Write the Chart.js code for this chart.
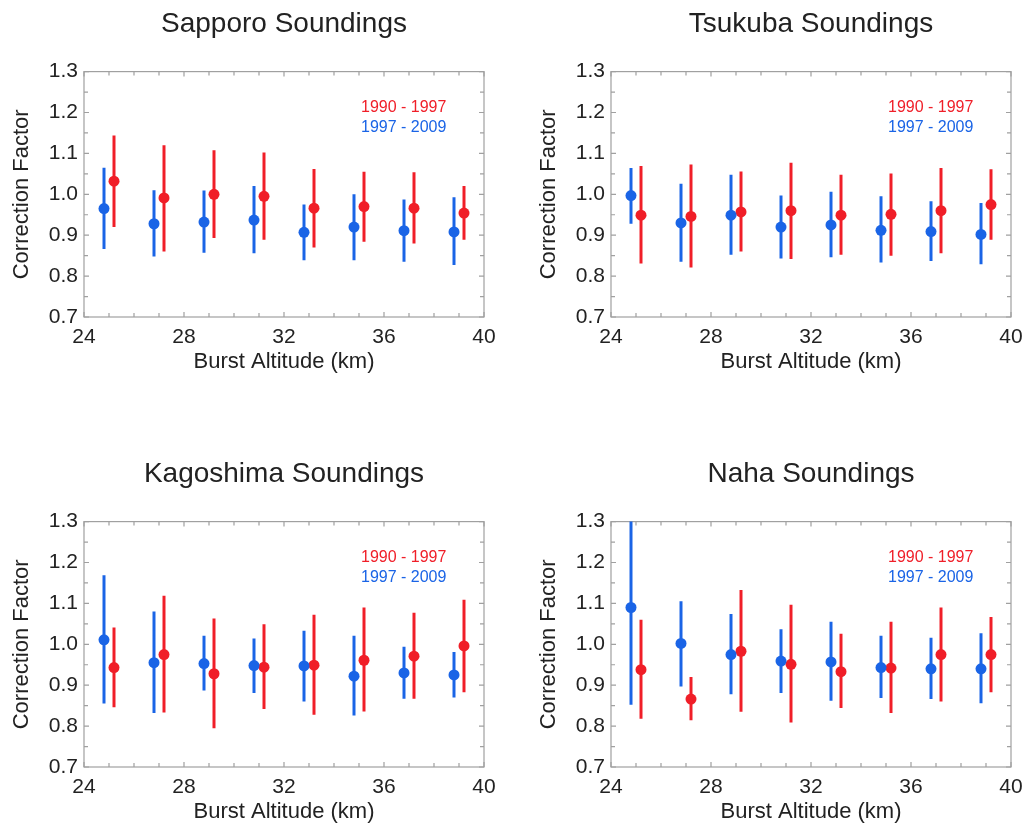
<!DOCTYPE html>
<html>
<head>
<meta charset="utf-8">
<script src="https://cdn.jsdelivr.net/npm/chart.js@4.4.0/dist/chart.umd.min.js"></script>
<style>
  body { margin: 0; background: #fff; width: 1025px; height: 824px; position: relative; overflow: hidden; }
  .panel { position: absolute; width: 498px; height: 400px; }
</style>
</head>
<body>
<div class="panel" style="left:0;top:0"><canvas id="c0"></canvas></div>
<div class="panel" style="left:527px;top:0"><canvas id="c1"></canvas></div>
<div class="panel" style="left:0;top:450px"><canvas id="c2"></canvas></div>
<div class="panel" style="left:527px;top:450px"><canvas id="c3"></canvas></div>
<script>
// eixos e rótulos
const xTicks = [24, 28, 32, 36, 40];
const yTicks = [0.7, 0.8, 0.9, 1.0, 1.1, 1.2, 1.3];
const periods = ['1990 - 1997', '1997 - 2009'];
const stations = ['Sapporo Soundings', 'Tsukuba Soundings', 'Kagoshima Soundings', 'Naha Soundings'];

// altitudes (km) de cada período
const oldAlt = [25.2, 27.2, 29.2, 31.2, 33.2, 35.2, 37.2, 39.2]; // 1990 - 1997 (vermelho)
const newAlt = [24.8, 26.8, 28.8, 30.8, 32.8, 34.8, 36.8, 38.8]; // 1997 - 2009 (azul)

// Sapporo
const sapporoOld     = [1.032, 0.991, 1.000, 0.995, 0.966, 0.970, 0.966, 0.954];
const sapporoOldLow  = [0.920, 0.860, 0.893, 0.889, 0.870, 0.884, 0.880, 0.889];
const sapporoOldHigh = [1.144, 1.120, 1.108, 1.102, 1.062, 1.055, 1.054, 1.020];
const sapporoNew     = [0.965, 0.928, 0.932, 0.937, 0.907, 0.920, 0.911, 0.908];
const sapporoNewLow  = [0.866, 0.848, 0.857, 0.856, 0.839, 0.839, 0.835, 0.827];
const sapporoNewHigh = [1.065, 1.010, 1.009, 1.020, 0.975, 1.000, 0.987, 0.993];

// Tsukuba
const tsukubaOld     = [0.949, 0.946, 0.957, 0.960, 0.949, 0.951, 0.960, 0.975];
const tsukubaOldLow  = [0.831, 0.821, 0.860, 0.842, 0.852, 0.850, 0.856, 0.889];
const tsukubaOldHigh = [1.069, 1.073, 1.056, 1.077, 1.048, 1.051, 1.064, 1.061];
const tsukubaNew     = [0.997, 0.930, 0.949, 0.920, 0.925, 0.912, 0.909, 0.902];
const tsukubaNewLow  = [0.928, 0.835, 0.852, 0.843, 0.846, 0.833, 0.837, 0.829];
const tsukubaNewHigh = [1.064, 1.026, 1.048, 0.997, 1.006, 0.995, 0.983, 0.979];

// Kagoshima
const kagoshimaOld     = [0.943, 0.975, 0.928, 0.944, 0.949, 0.961, 0.971, 0.996];
const kagoshimaOldLow  = [0.846, 0.833, 0.795, 0.842, 0.828, 0.836, 0.867, 0.883];
const kagoshimaOldHigh = [1.041, 1.119, 1.063, 1.049, 1.072, 1.090, 1.077, 1.109];
const kagoshimaNew     = [1.011, 0.955, 0.953, 0.948, 0.947, 0.922, 0.930, 0.925];
const kagoshimaNewLow  = [0.855, 0.832, 0.887, 0.881, 0.860, 0.826, 0.867, 0.870];
const kagoshimaNewHigh = [1.169, 1.080, 1.021, 1.014, 1.033, 1.021, 0.994, 0.981];

// Naha
const nahaOld     = [0.938, 0.866, 0.983, 0.951, 0.933, 0.942, 0.975, 0.975];
const nahaOldLow  = [0.818, 0.814, 0.835, 0.809, 0.844, 0.832, 0.860, 0.883];
const nahaOldHigh = [1.060, 0.920, 1.133, 1.097, 1.026, 1.055, 1.090, 1.067];
const nahaNew     = [1.090, 1.002, 0.975, 0.959, 0.957, 0.943, 0.940, 0.940];
const nahaNewLow  = [0.852, 0.897, 0.878, 0.881, 0.862, 0.869, 0.866, 0.856];
const nahaNewHigh = [1.340, 1.105, 1.074, 1.037, 1.055, 1.021, 1.016, 1.027];

const RED = '#f01e28';
const BLUE = '#1a64e6';
const FONT = '"Liberation Sans", Arial, Helvetica, sans-serif';
const TEXT = '#222222';

// monta segmentos verticais separados por null (gap)
function barras(alt, low, high) {
    const pts = [];
    for (let i = 0; i < alt.length; i++) {
        pts.push({ x: alt[i], y: low[i] });
        pts.push({ x: alt[i], y: high[i] });
        pts.push({ x: alt[i], y: null });
    }
    return pts;
}

function pontos(alt, val) {
    return alt.map((a, i) => ({ x: a, y: val[i] }));
}

// moldura com marcas internas (estilo IDL)
const molduraPlugin = {
    id: 'moldura',
    beforeDatasetsDraw(chart) {
        const { ctx, chartArea: a, scales: { x, y } } = chart;
        ctx.save();
        ctx.strokeStyle = '#a0a0a0';
        ctx.lineWidth = 1.2;
        ctx.strokeRect(a.left, a.top, a.right - a.left, a.bottom - a.top);
        ctx.beginPath();
        for (let v = xTicks[0]; v <= xTicks[xTicks.length - 1]; v += 1) {
            const px = x.getPixelForValue(v);
            const len = xTicks.includes(v) ? 5 : 4;
            ctx.moveTo(px, a.bottom); ctx.lineTo(px, a.bottom - len);
            ctx.moveTo(px, a.top); ctx.lineTo(px, a.top + len);
        }
        for (let k = 0; k <= (yTicks.length - 1) * 2; k++) {
            const v = yTicks[0] + k * 0.05;
            const py = y.getPixelForValue(v);
            const len = k % 2 === 0 ? 5 : 4;
            ctx.moveTo(a.left, py); ctx.lineTo(a.left + len, py);
            ctx.moveTo(a.right, py); ctx.lineTo(a.right - len, py);
        }
        ctx.stroke();
        ctx.restore();
    },
    afterDraw(chart) {
        const { ctx, chartArea: a } = chart;
        ctx.save();
        ctx.font = '16px ' + FONT;
        ctx.textBaseline = 'middle';
        ctx.textAlign = 'left';
        ctx.fillStyle = RED;
        ctx.fillText(periods[0], a.left + 277, a.top + 36);
        ctx.fillStyle = BLUE;
        ctx.fillText(periods[1], a.left + 277, a.top + 56);
        ctx.restore();
    }
};

function gerarGrafico(id, titulo, oldV, oldLo, oldHi, newV, newLo, newHi) {
    const ctx = document.getElementById(id).getContext('2d');
    return new Chart(ctx, {
        type: 'scatter',
        data: {
            datasets: [
                { data: barras(newAlt, newLo, newHi), showLine: true, borderColor: BLUE, borderWidth: 3, pointRadius: 0, spanGaps: false, clip: 0 },
                { data: barras(oldAlt, oldLo, oldHi), showLine: true, borderColor: RED, borderWidth: 3, pointRadius: 0, spanGaps: false, clip: 0 },
                { data: pontos(newAlt, newV), pointRadius: 5.5, pointBackgroundColor: BLUE, pointBorderWidth: 0, borderColor: BLUE },
                { data: pontos(oldAlt, oldV), pointRadius: 5.5, pointBackgroundColor: RED, pointBorderWidth: 0, borderColor: RED }
            ]
        },
        options: {
            responsive: true,
            maintainAspectRatio: false,
            animation: false,
            events: [],
            layout: { padding: { left: 0, right: 14, top: 0, bottom: 21 } },
            scales: {
                x: {
                    type: 'linear',
                    min: 24, max: 40,
                    afterBuildTicks: s => { s.ticks = xTicks.map(v => ({ value: v })); },
                    afterFit: s => { s.height = 62; s.paddingLeft = 0; s.paddingRight = 10; },
                    grid: { display: false, drawTicks: false },
                    border: { display: false },
                    ticks: { color: TEXT, font: { family: FONT, size: 21 }, padding: 8, maxRotation: 0 },
                    title: { display: true, text: 'Burst Altitude (km)', color: TEXT, font: { family: FONT, size: 22 }, padding: { top: 0, bottom: 4 } }
                },
                y: {
                    min: 0.7, max: 1.3,
                    afterBuildTicks: s => { s.ticks = yTicks.map(v => ({ value: v })); },
                    afterFit: s => { s.width = 84; },
                    grid: { display: false, drawTicks: false },
                    border: { display: false },
                    ticks: { color: TEXT, font: { family: FONT, size: 21 }, padding: 6, callback: v => Number(v).toFixed(1) },
                    title: { display: true, text: 'Correction Factor', color: TEXT, font: { family: FONT, size: 22 }, padding: { top: 9, bottom: 0 } }
                }
            },
            plugins: {
                legend: { display: false },
                tooltip: { enabled: false },
                title: { display: true, fullSize: false, text: titulo, color: TEXT, font: { family: FONT, size: 28, weight: 'normal' }, padding: { top: 7, bottom: 31 } }
            }
        },
        plugins: [molduraPlugin]
    });
}

gerarGrafico('c0', stations[0], sapporoOld, sapporoOldLow, sapporoOldHigh, sapporoNew, sapporoNewLow, sapporoNewHigh);
gerarGrafico('c1', stations[1], tsukubaOld, tsukubaOldLow, tsukubaOldHigh, tsukubaNew, tsukubaNewLow, tsukubaNewHigh);
gerarGrafico('c2', stations[2], kagoshimaOld, kagoshimaOldLow, kagoshimaOldHigh, kagoshimaNew, kagoshimaNewLow, kagoshimaNewHigh);
gerarGrafico('c3', stations[3], nahaOld, nahaOldLow, nahaOldHigh, nahaNew, nahaNewLow, nahaNewHigh);
</script>
</body>
</html>
